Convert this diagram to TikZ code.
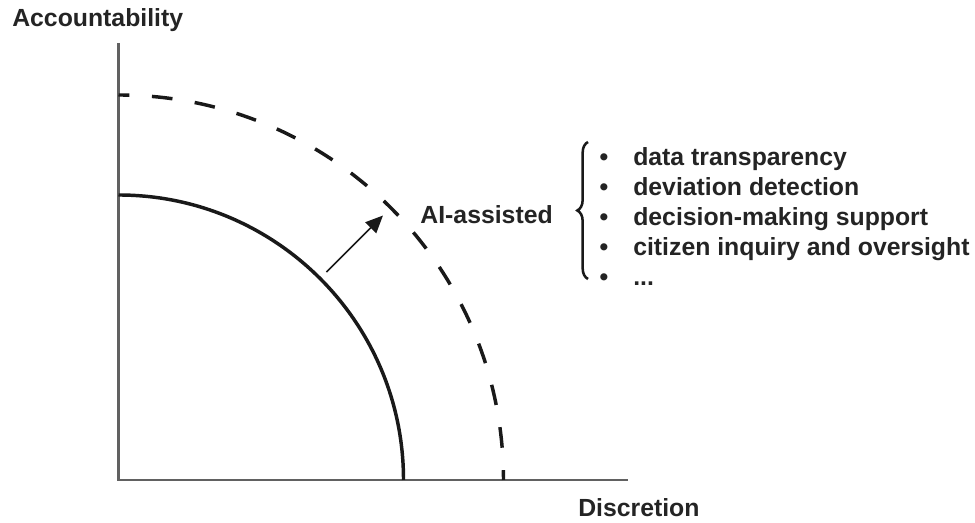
\documentclass[tikz,border=0pt]{standalone}
\usepackage{fontspec}
\setmainfont{Liberation Sans}
\usetikzlibrary{arrows.meta, decorations.pathreplacing, positioning}
\definecolor{axisgray}{gray}{0.38}
\definecolor{inkblack}{gray}{0.1}
\definecolor{textgray}{gray}{0.14}

\begin{document}
\begin{tikzpicture}[
                    x=0.75pt, y=0.75pt,
                    axis/.style={draw=axisgray, line width=1.7pt},
                    frontier/.style={draw=inkblack, line width=2.6pt},
                    label/.style={font=\fontsize{18.6}{22}\selectfont\bfseries, text=textgray, inner sep=0pt}
                ]
                \useasboundingbox (0,0) rectangle (975,523);
                \def\rSolid{285}
                \def\rDashed{385}

                % axes
                \coordinate (origin) at (118.5, 43);
                \coordinate (yTop) at (118.5, 480);
                \coordinate (xEnd) at (628, 43);
                \draw[axis] (yTop) -- (origin) -- (xEnd);
                \node[label, anchor=base west] (accountability) at (12, 496) {Accountability};
                \node[label, anchor=base west] (discretion) at (578, 6) {Discretion};

                % frontiers
                \draw[frontier] ([shift={(0,\rSolid)}]origin) arc[start angle=90, end angle=0, radius=\rSolid];
                \draw[frontier, dash pattern=on 15.5pt off 16.9pt, dash phase=7.3pt]
                    ([shift={(0,\rDashed)}]origin) arc[start angle=90, end angle=0, radius=\rDashed];

                \coordinate (shiftStart) at ([shift={(45:294)}]origin);
                \coordinate (shiftEnd) at ([shift={(45:374)}]origin);
                \draw[draw=inkblack, line width=1.1pt, -{Triangle[length=13pt, width=11.5pt]}] (shiftStart) -- (shiftEnd);

                \node[label, anchor=east] (aiAssisted) at (553, 308) {AI-assisted};
                \draw[draw=inkblack, line width=1.9pt, decorate, decoration={brace, amplitude=8pt}]
                    (588, 244) -- (588, 381);

                \foreach \i in {1,...,5}
                    \node[label, anchor=base] (bullet-\i) at (604, {387 - 30*\i}) {\textbullet};
                \node[label, anchor=base west] (item-1) at (633, 357) {data transparency};
                \node[label, anchor=base west] (item-2) at (633, 327) {deviation detection};
                \node[label, anchor=base west] (item-3) at (633, 297) {decision-making support};
                \node[label, anchor=base west] (item-4) at (633, 267) {citizen inquiry and oversight};
                \node[label, anchor=base west] (item-5) at (633, 237) {...};
            \end{tikzpicture}
\end{document}
